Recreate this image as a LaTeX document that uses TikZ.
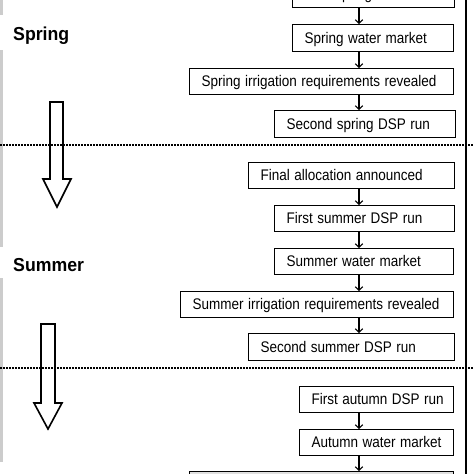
\documentclass[tikz,border=0pt]{standalone}
\usepackage{fontspec}
\usepackage{graphicx}
\setmainfont{Liberation Sans}
\usetikzlibrary{arrows.meta}
\newcommand{\tx}[1]{\scalebox{1}[1.14]{#1}}
\begin{document}
\begin{tikzpicture}[x=1pt,y=-1pt,
  box/.style={draw, line width=1.3pt, anchor=north west, align=left,
    inner xsep=12pt, inner ysep=0pt, text height=10.8pt, text depth=0.3pt,
    font=\fontsize{13.5}{16}\selectfont},
  season/.style={anchor=base west, inner sep=0pt, font=\fontsize{17.7}{20}\selectfont\bfseries},
  arr/.style={line width=1.1pt, -{Straight Barb[length=3.5pt,width=7.5pt]}},
  hollow/.style={line width=1.6pt, miter limit=10},
  sep/.style={line width=1.6pt, dash pattern=on 1.6pt off 1.4pt},
  edge/.style={line width=3pt, draw=black!20}]
\useasboundingbox (0,0) rectangle (474,474);
\begin{scope}
\clip (0,0) rectangle (474,474);
% frame lines
\draw[line width=1.3pt] (466,-2) -- (466,476);
\draw[edge] (1.5,-2) -- (1.5,15);
\draw[edge] (1.5,50) -- (1.5,247);
\draw[edge] (1.5,278) -- (1.5,462);
% separators
\draw[sep] (0,145) -- (474,145);
\draw[sep] (0,368) -- (474,368);
% season labels
\node[season] (spring) at (13,40) {\scalebox{1}[1.06]{Spring}};
\node[season] (summer) at (13,271.5) {\scalebox{1}[1.06]{Summer}};
% hollow arrows
\draw[hollow] (50,102) -- (63,102) -- (63,179) -- (71,179) -- (57,207) -- (43,179) -- (50,179) -- cycle;
\draw[hollow] (41,324) -- (55,324) -- (55,403) -- (62,403) -- (48,429) -- (34,403) -- (41,403) -- cycle;
% boxes
\node[box, text width=138pt, minimum height=26.5pt] (b1) at (292,-19.5) {\tx{First spring DSP run}};
\node[box, text width=137pt, minimum height=27pt] (b2) at (292,24) {\tx{Spring water market}};
\node[box, text width=240pt, minimum height=26pt] (b3) at (189,68) {\tx{Spring irrigation requirements revealed}};
\node[box, text width=157pt, minimum height=27pt] (b4) at (274,110) {\tx{Second spring DSP run}};
\node[box, text width=182pt, minimum height=26pt] (b5) at (248,162) {\tx{Final allocation announced}};
\node[box, text width=156pt, minimum height=26pt] (b6) at (274,205) {\tx{First summer DSP run}};
\node[box, text width=155pt, minimum height=26pt] (b7) at (274,248) {\tx{Summer water market}};
\node[box, text width=249pt, minimum height=25.5pt] (b8) at (180,291) {\tx{Summer irrigation requirements revealed}};
\node[box, text width=182pt, minimum height=27pt] (b9) at (248,333) {\tx{Second summer DSP run}};
\node[box, text width=130pt, minimum height=26pt] (b10) at (299,386) {\tx{First autumn DSP run}};
\node[box, text width=130pt, minimum height=26pt] (b11) at (299,429) {\tx{Autumn water market}};
\node[box, text width=240pt, minimum height=26pt, fill=black!12] (b12) at (189,471) {};
% connectors
\coordinate (ax) at (359,0);
\draw[arr] (b1.south -| ax) -- (b2.north -| ax);
\draw[arr] (b2.south -| ax) -- (b3.north -| ax);
\draw[arr] (b3.south -| ax) -- (b4.north -| ax);
\draw[arr] (b5.south -| ax) -- (b6.north -| ax);
\draw[arr] (b6.south -| ax) -- (b7.north -| ax);
\draw[arr] (b7.south -| ax) -- (b8.north -| ax);
\draw[arr] (b8.south -| ax) -- (b9.north -| ax);
\draw[arr] (b10.south -| ax) -- (b11.north -| ax);
\draw[arr] (b11.south -| ax) -- (b12.north -| ax);
\end{scope}
\end{tikzpicture}
\end{document}
